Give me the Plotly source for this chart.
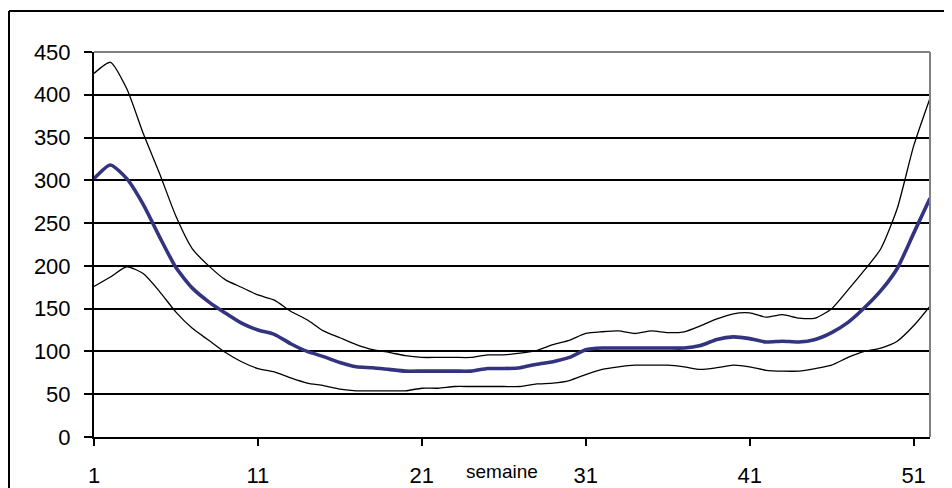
import plotly.graph_objects as go

weeks = list(range(1, 53))

upper = [425, 438, 407, 355, 308, 258, 220, 200, 184, 175, 166, 160, 147, 137, 124, 116,
         108, 102, 99, 95, 93, 93, 93, 93, 96, 96, 98, 101, 108, 113, 121, 123, 124, 121,
         124, 122, 123, 130, 138, 144, 145, 140, 143, 139, 139, 150, 172, 195, 220, 267,
         340, 396]

middle = [302, 318, 302, 272, 234, 198, 174, 158, 145, 133, 125, 120, 109, 100, 94, 87,
          82, 81, 79, 77, 77, 77, 77, 77, 80, 80, 81, 85, 88, 93, 102, 104, 104, 104, 104,
          104, 104, 107, 114, 117, 115, 111, 112, 111, 114, 122, 134, 151, 171, 197, 238,
          279]

lower = [176, 187, 199, 191, 170, 146, 127, 113, 99, 88, 80, 76, 69, 63, 60, 56, 54, 54,
         54, 54, 57, 57, 59, 59, 59, 59, 59, 62, 63, 66, 73, 79, 82, 84, 84, 84, 82, 79, 81,
         84, 82, 78, 77, 77, 80, 84, 93, 100, 104, 112, 130, 153]

x_ticks = [1, 11, 21, 31, 41, 51]
y_ticks = [0, 50, 100, 150, 200, 250, 300, 350, 400, 450]
x_title = "semaine"

FONT = "Liberation Sans, Arial, sans-serif"

# the page body adds an 8px offset; margins compensate so the plot area lands
# at window pixels x 94..930, y 52..437
W, H = 952, 488
ML, MR, MT, MB = 86, 30, 44, 59
PW, PH = W - ML - MR, H - MT - MB
OFF = 8


def px_to_paper_x(wx):
    return (wx - OFF - ML) / PW


def px_to_paper_y(wy):
    return (H - MB - (wy - OFF)) / PH


fig = go.Figure()
fig.add_trace(go.Scatter(x=weeks, y=upper, mode="lines",
                         line=dict(color="#000000", width=1.3, shape="spline", smoothing=0.6),
                         showlegend=False, hoverinfo="skip"))
fig.add_trace(go.Scatter(x=weeks, y=lower, mode="lines",
                         line=dict(color="#000000", width=1.3, shape="spline", smoothing=0.6),
                         showlegend=False, hoverinfo="skip"))
fig.add_trace(go.Scatter(x=weeks, y=middle, mode="lines",
                         line=dict(color="#33337F", width=3.6, shape="spline", smoothing=0.6),
                         showlegend=False, hoverinfo="skip"))

fig.update_layout(
    width=W, height=H,
    margin=dict(l=ML, r=MR, t=MT, b=MB, autoexpand=False),
    paper_bgcolor="white", plot_bgcolor="white",
    font=dict(family=FONT, size=22, color="#000000"),
    xaxis=dict(range=[1, 52], tickvals=x_ticks, ticktext=[str(v) for v in x_ticks],
               showgrid=False, zeroline=False, showline=True, linecolor="#000000",
               linewidth=2, ticks="outside", ticklen=7, tickwidth=2, tickcolor="#000000",
               ticklabelstandoff=11, tickfont=dict(family=FONT, size=22)),
    yaxis=dict(range=[0, 450], tickvals=y_ticks, showgrid=True, gridcolor="#000000",
               gridwidth=1.6, zeroline=False, showline=True, linecolor="#000000",
               linewidth=2, ticks="outside", ticklen=8, tickwidth=2, tickcolor="#000000",
               ticklabelstandoff=9, tickfont=dict(family=FONT, size=22)),
    annotations=[dict(text=x_title, xref="paper", yref="paper",
                      x=px_to_paper_x(502), y=px_to_paper_y(471),
                      xanchor="center", yanchor="middle", showarrow=False,
                      font=dict(family=FONT, size=19))],
)

shapes = [
    # grey plot-area border top & right
    dict(type="line", xref="paper", yref="paper", x0=0, x1=1, y0=1, y1=1,
         line=dict(color="#808080", width=2), layer="above"),
    dict(type="line", xref="paper", yref="paper", x0=1, x1=1, y0=0, y1=1,
         line=dict(color="#808080", width=2), layer="above"),
    # outer chart frame (top and left edges)
    dict(type="line", xref="paper", yref="paper",
         x0=px_to_paper_x(9), x1=px_to_paper_x(960),
         y0=px_to_paper_y(11), y1=px_to_paper_y(11),
         line=dict(color="#000000", width=2)),
    dict(type="line", xref="paper", yref="paper",
         x0=px_to_paper_x(9), x1=px_to_paper_x(9),
         y0=px_to_paper_y(11), y1=px_to_paper_y(500),
         line=dict(color="#000000", width=2)),
]
fig.update_layout(shapes=shapes)

fig.write_html("out.html")
